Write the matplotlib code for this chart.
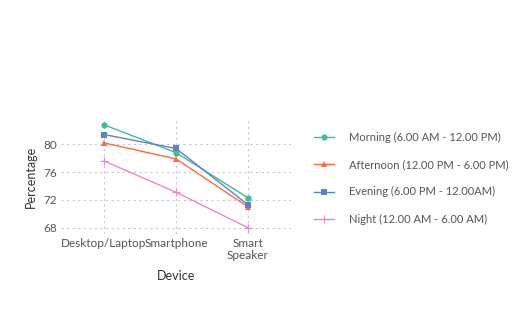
import matplotlib.pyplot as plt

devices = ["Desktop/Laptop", "Smartphone", "Smart\nSpeaker"]
series = [
    "Morning (6.00 AM - 12.00 PM)",
    "Afternoon (12.00 PM - 6.00 PM)",
    "Evening (6.00 PM - 12.00AM)",
    "Night (12.00 AM - 6.00 AM)",
]
morning = [82.8, 78.8, 72.3]
afternoon = [80.2, 77.9, 71.0]
evening = [81.4, 79.4, 71.3]
night = [77.6, 73.1, 68.0]

colors = ["#3CC08F", "#FF6A3D", "#5B83C9", "#E58BC9"]
markers = ["o", "^", "s", "+"]

plt.rcParams['font.family'] = ['Lato', 'DejaVu Sans']

fig = plt.figure(figsize=(5.2, 3.25), dpi=100, facecolor='white')
ax = fig.add_axes([0.117, 0.279, 0.443, 0.353])

x = list(range(len(devices)))
for vals, name, c, m in zip([morning, afternoon, evening, night], series, colors, markers):
    ms = 6 if m == "+" else 4.5
    ax.plot(x, vals, color=c, marker=m, markersize=ms, linewidth=1, label=name,
            markeredgewidth=0.8 if m == "+" else 0)

ax.set_xlim(-0.6, 2.6)
ax.set_ylim(67.05, 83.55)
ax.set_xticks(x)
ax.set_xticklabels(devices, linespacing=1.1)
ax.set_yticks([68, 72, 76, 80])
ax.tick_params(axis='both', length=0, labelsize=8.5, colors='#555555', pad=3)
ax.grid(True, color='#c8c8c8', linestyle=(0, (2, 3)), linewidth=0.8)
ax.set_axisbelow(True)
for s in ax.spines.values():
    s.set_visible(False)
ax.set_xlabel("Device", fontsize=9, color='#333333', labelpad=6)
ax.set_ylabel("Percentage", fontsize=9, color='#333333', labelpad=4)

leg = ax.legend(loc='upper left', bbox_to_anchor=(1.08, 0.93), frameon=False,
                fontsize=8, labelspacing=1.45, handlelength=1.8, handletextpad=1.3,
                borderaxespad=0)
for t in leg.get_texts():
    t.set_color('#555555')

fig.savefig("out.png", dpi=100, facecolor='white')
